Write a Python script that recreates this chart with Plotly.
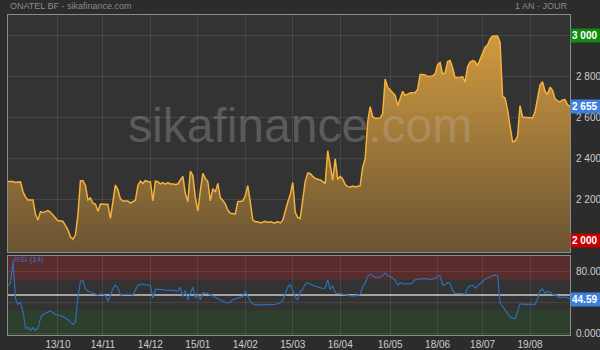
import plotly.graph_objects as go

# ---- data ----
price = [
    2290, 2290, 2290, 2285, 2285, 2288, 2240, 2215, 2200, 2200,
    2200, 2130, 2102, 2143, 2138, 2143, 2148, 2140, 2125, 2110,
    2099, 2099, 2095, 2075, 2054, 2020, 2008, 2030, 2127, 2294,
    2294, 2270, 2200, 2210, 2184, 2180, 2145, 2180, 2180, 2180,
    2178, 2110, 2200, 2273, 2250, 2205, 2195, 2195, 2195, 2185,
    2190, 2198, 2270, 2292, 2281, 2294, 2290, 2289, 2195, 2292,
    2289, 2278, 2285, 2277, 2285, 2278, 2278, 2276, 2278, 2300,
    2315, 2230, 2192, 2340, 2320, 2210, 2145, 2245, 2330, 2305,
    2290, 2195, 2255, 2238, 2281, 2210, 2198, 2180, 2150, 2135,
    2132, 2132, 2192, 2195, 2195, 2220, 2270, 2190, 2102, 2094,
    2094, 2088, 2094, 2096, 2090, 2093, 2090, 2088, 2094, 2088,
    2100, 2150, 2190, 2225, 2285, 2140, 2115, 2110, 2214, 2290,
    2332, 2328, 2315, 2305, 2301, 2298, 2290, 2280, 2440, 2360,
    2296, 2400, 2300, 2315, 2302, 2275, 2265, 2262, 2268, 2263,
    2265, 2270, 2360, 2400, 2580, 2655, 2606, 2598, 2598, 2600,
    2620, 2790, 2750, 2735, 2722, 2710, 2660, 2700, 2730, 2710,
    2715, 2722, 2723, 2723, 2740, 2812, 2812, 2810, 2802, 2805,
    2805, 2815, 2860, 2870, 2815, 2820, 2875, 2880, 2845, 2796,
    2799, 2799, 2801, 2775, 2850, 2873, 2880, 2875, 2855, 2885,
    2910, 2945, 2955, 2985, 3000, 3000, 3000, 2970, 2704, 2697,
    2639, 2560, 2484, 2487, 2510, 2660, 2605, 2603, 2603, 2601,
    2600, 2630, 2700, 2760, 2777, 2730, 2715, 2750, 2735, 2693,
    2683, 2678, 2688, 2690, 2665, 2655,
]
rsi = [
    62, 66, 95, 45, 38, 40, 29, 7, 8, 4,
    8, 4, 7, 20, 25, 26, 28, 29.5, 27, 25,
    24, 23.5, 22, 20.5, 18, 15, 12, 15, 47, 68,
    68.5, 58, 55, 54, 53, 51, 50, 51.5, 51, 49,
    42, 50, 58, 63, 59, 50, 51, 51, 51, 51,
    50, 57, 63, 63.5, 64, 63, 63, 62, 46, 57.5,
    57.5, 57, 57, 56.5, 56, 56, 56, 55.5, 55, 60,
    48, 56, 44, 52, 60, 47, 50, 44, 53, 52.5,
    52, 50.5, 49, 47.5, 46, 44, 42, 40.4, 39.5, 41,
    44, 45, 46, 47, 48, 55, 48, 42, 38.5, 37.4,
    37.4, 37.4, 37.4, 37.4, 37.4, 37.4, 37.4, 38, 39, 40,
    43, 52, 60, 64, 56, 47, 44, 54, 57.5, 64,
    66, 64, 62.5, 61.5, 60.5, 59.5, 58.5, 59, 70, 57,
    62, 53, 52, 51.5, 51, 50.5, 49.5, 49, 49, 49,
    50, 51, 61, 65, 74, 77, 75, 72.5, 73, 73.5,
    75.5, 78.5, 75, 73.5, 72.5, 69, 63, 66, 64.5, 64.5,
    64.5, 64.5, 66, 70, 70.6, 70.6, 70.6, 70.6, 71.2, 70,
    70.5, 71.5, 75, 75, 63, 63.5, 66, 65, 56, 52,
    52, 52, 52, 51, 59, 62, 62.8, 59, 62, 64.5,
    67.5, 70.5, 72, 74, 75.3, 75.7, 75, 40, 35, 30,
    26, 22, 19.8, 19.8, 28, 39, 38, 38.3, 38.5, 38.5,
    38, 37.8, 45, 56, 58, 52, 54.5, 54, 50.5, 50.5,
    48, 46.5, 47.5, 47.5, 47, 44.59,
]
tick_pos = [20, 38, 57, 76, 95, 114, 133, 153, 172, 190, 209]
tick_labels = ["13/10", "14/11", "14/12", "15/01", "14/02", "15/03",
               "16/04", "16/05", "18/06", "18/07", "19/08"]
price_ticks = [2000, 2200, 2400, 2600, 2800, 3000]
price_tick_text = ["", "2 200", "2 400", "2 600", "2 800", ""]
rsi_ticks = [0, 40, 80]
rsi_tick_text = ["0.0000", "40.00", "80.00"]
rsi_zones = [(70, 101), (-2, 30)]
rsi_mid = 50

x = list(range(len(price)))
x_last = len(price) - 1

FONT = "Liberation Sans, Arial, sans-serif"
BG = "#2c2c2c"
PLOT_BG = "#333333"
GRID = "rgba(255,255,255,0.09)"
BORDER = "#8c8c8c"

fig = go.Figure()
fig.add_trace(go.Scatter(
    x=x, y=price, mode="lines", xaxis="x", yaxis="y",
    line=dict(color="#f4b23c", width=1.5),
    fill="tozeroy",
    fillgradient=dict(type="vertical", start=1944, stop=3000,
                      colorscale=[[0, "#6a5433"], [1, "#d09a40"]]),
    hoverinfo="skip", showlegend=False,
))
fig.add_trace(go.Scatter(
    x=x, y=rsi, mode="lines", xaxis="x2", yaxis="y2",
    line=dict(color="#2f6db5", width=1.2),
    hoverinfo="skip", showlegend=False,
))

axis_common = dict(showline=True, linecolor=BORDER, linewidth=1, mirror=True,
                   zeroline=False, showgrid=True, gridcolor=GRID, gridwidth=1,
                   automargin=False)

fig.update_layout(
    width=600, height=350,
    margin=dict(l=8, r=30, t=15, b=15),
    paper_bgcolor=BG, plot_bgcolor=PLOT_BG,
    font=dict(family=FONT, size=10, color="#cccccc"),
    xaxis=dict(domain=[0, 1], anchor="y", range=[0, x_last],
               tickvals=tick_pos, ticktext=[""] * len(tick_pos),
               ticks="", **axis_common),
    yaxis=dict(domain=[0.258, 1], anchor="x", side="right",
               range=[1944, 3102], tickvals=price_ticks,
               ticktext=price_tick_text, ticks="", ticklabelstandoff=3,
               **axis_common),
    xaxis2=dict(domain=[0, 1], anchor="y2", range=[0, x_last],
                tickvals=tick_pos, ticktext=tick_labels, ticks="",
                tickfont=dict(size=10, color="#cccccc"),
                **axis_common),
    yaxis2=dict(domain=[0, 0.247], anchor="x2", side="right",
                range=[-1.7, 100.6], tickvals=rsi_ticks,
                ticktext=rsi_tick_text, ticks="", ticklabelstandoff=3,
                **axis_common),
)

shapes = []
zone_colors = ["rgba(120,40,40,0.55)", "rgba(40,75,40,0.55)"]
for (lo, hi), col in zip(rsi_zones, zone_colors):
    shapes.append(dict(type="rect", xref="x2", yref="y2",
                       x0=0, x1=x_last, y0=lo, y1=hi, fillcolor=col,
                       line=dict(width=0), layer="below"))
shapes.append(dict(type="line", xref="x2", yref="y2", x0=0, x1=x_last,
                   y0=rsi_mid, y1=rsi_mid,
                   line=dict(color="#c8c8c8", width=1.5), layer="below"))
fig.update_layout(shapes=shapes)

ann = []
ann.append(dict(text="sikafinance.com", xref="paper", yref="paper",
                x=0.519, y=0.655, xanchor="center", yanchor="middle",
                showarrow=False,
                font=dict(family=FONT, size=48, color="rgba(190,190,190,0.30)")))
ann.append(dict(text="ONATEL BF - sikafinance.com", xref="paper", yref="paper",
                x=0, y=1.028, xanchor="left", yanchor="middle", showarrow=False,
                font=dict(family=FONT, size=9, color="#8a8a8a")))
ann.append(dict(text="1 AN - JOUR", xref="paper", yref="paper",
                x=1, y=1.028, xanchor="right", yanchor="middle", showarrow=False,
                font=dict(family=FONT, size=9, color="#8a8a8a")))
ann.append(dict(text="RSI (14)", xref="paper", yref="paper",
                x=0.007, y=0.2375, xanchor="left", yanchor="middle",
                showarrow=False, font=dict(family=FONT, size=8, color="#3a72c4")))


def box(text, yval, yref, color):
    return dict(text="<b>" + text + "</b>", xref="paper", yref=yref,
                x=1.0, y=yval, xanchor="left", yanchor="middle",
                showarrow=False, bgcolor=color, borderpad=1, width=27,
                align="left", font=dict(family=FONT, size=10, color="#ffffff"))


ann.append(box("3 000", price_ticks[-1], "y", "#128a12"))
ann.append(box("2 000", price_ticks[0], "y", "#c80000"))
ann.append(box("{:,.0f}".format(price[-1]).replace(",", " "), price[-1], "y", "#3d7fe0"))
ann.append(box("{:.2f}".format(rsi[-1]), rsi[-1], "y2", "#3d7fe0"))
fig.update_layout(annotations=ann)

fig.write_html("out.html")
